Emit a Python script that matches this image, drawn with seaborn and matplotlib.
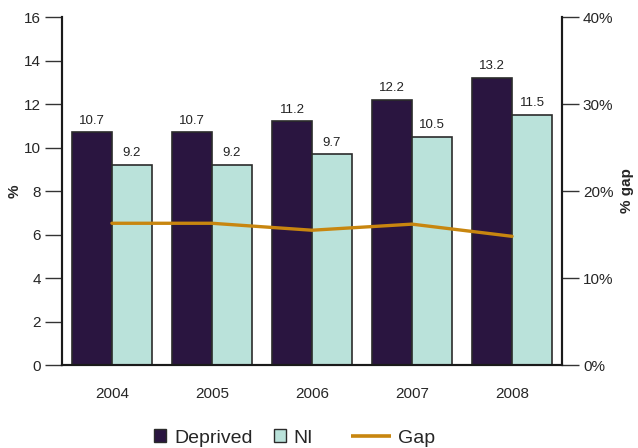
import pandas as pd
import seaborn as sns
import matplotlib.pyplot as plt
from matplotlib.lines import Line2D
from matplotlib.patches import Patch
from matplotlib.legend_handler import HandlerBase

years = ['2004', '2005', '2006', '2007', '2008']
deprived = [10.7, 10.7, 11.2, 12.2, 13.2]
ni = [9.2, 9.2, 9.7, 10.5, 11.5]
gap = [16.3, 16.3, 15.5, 16.2, 14.8]

c_dep = '#2a1540'
c_ni = '#bae2da'
c_gap = '#c8860f'

sns.set_style('white')
plt.rcParams['font.family'] = ['Liberation Sans', 'DejaVu Sans']


class GapHandler(HandlerBase):
    # wider handle box with a long line, leaving some room before it
    def legend_artist(self, legend, orig_handle, fontsize, handlebox):
        px = 0.72
        handlebox.width = 56 * px
        y = (handlebox.height - handlebox.ydescent) / 2
        line = Line2D([16 * px, 56 * px], [y, y], color=orig_handle.get_color(),
                      linewidth=orig_handle.get_linewidth(), solid_capstyle='butt')
        handlebox.add_artist(line)
        return line


df = pd.DataFrame({'year': years * 2,
                   'value': deprived + ni,
                   'group': ['Deprived'] * len(years) + ['NI'] * len(years)})

fig = plt.figure(figsize=(6.38, 4.48), dpi=100)
ax = fig.add_axes([0.097, 0.185, 0.784, 0.777])
sns.barplot(data=df, x='year', y='value', hue='group', palette=[c_dep, c_ni],
            saturation=1, edgecolor='#2b2b2b', linewidth=1.2, width=0.8, ax=ax, legend=False)
for cont in ax.containers:
    ax.bar_label(cont, fmt='%.1f', padding=4, fontsize=9.5, color='#222222')

ax.set_ylim(0, 16)
ax.set_xlim(-0.5, 4.5)
ax.set_yticks(range(0, 17, 2))
ax.set_xticks(range(5))
ax.set_xticklabels(years)
ax.set_xticks([i - 0.5 for i in range(6)], minor=True)
ax.tick_params(axis='x', which='major', length=0, pad=16, labelsize=11)
ax.tick_params(axis='x', which='minor', length=12, width=1, color='#333333', direction='out')
ax.tick_params(axis='y', length=12, width=1, color='#333333', direction='out', labelsize=11, pad=3)
ax.set_xlabel('')
ax.set_ylabel('')

ax2 = ax.twinx()
sns.lineplot(x=list(range(5)), y=gap, color=c_gap, linewidth=2.4, ax=ax2)
ax2.set_ylim(0, 40)
ax2.set_yticks(range(0, 41, 10))
ax2.set_yticklabels([f'{v}%' for v in range(0, 41, 10)])
ax2.tick_params(axis='y', length=12, width=1, color='#333333', direction='out', labelsize=11, pad=3)
ax2.set_ylabel('')

fig.text(15 / 638, 1 - 191 / 448, '%', rotation=90, ha='center', va='center',
         fontweight='bold', fontsize=11)
fig.text(627 / 638, 1 - 191 / 448, '% gap', rotation=90, ha='center', va='center',
         fontweight='bold', fontsize=11)

for a in (ax, ax2):
    a.spines['top'].set_visible(False)
    for s in ('left', 'right', 'bottom'):
        a.spines[s].set_color('#1a1a1a')
        a.spines[s].set_linewidth(1.5)

gap_handle = Line2D([], [], color=c_gap, linewidth=2.6, label='Gap')
handles = [Patch(facecolor=c_dep, edgecolor='#2b2b2b', label='Deprived'),
           Patch(facecolor=c_ni, edgecolor='#2b2b2b', label='NI'),
           gap_handle]
fig.legend(handles=handles, loc='center', bbox_to_anchor=(0.462, 1 - 438 / 448), ncol=3,
           frameon=False, fontsize=14, handlelength=0.62, handleheight=0.62,
           columnspacing=1.1, handletextpad=0.4, handler_map={gap_handle: GapHandler()})

fig.savefig('out.png', dpi=100)
